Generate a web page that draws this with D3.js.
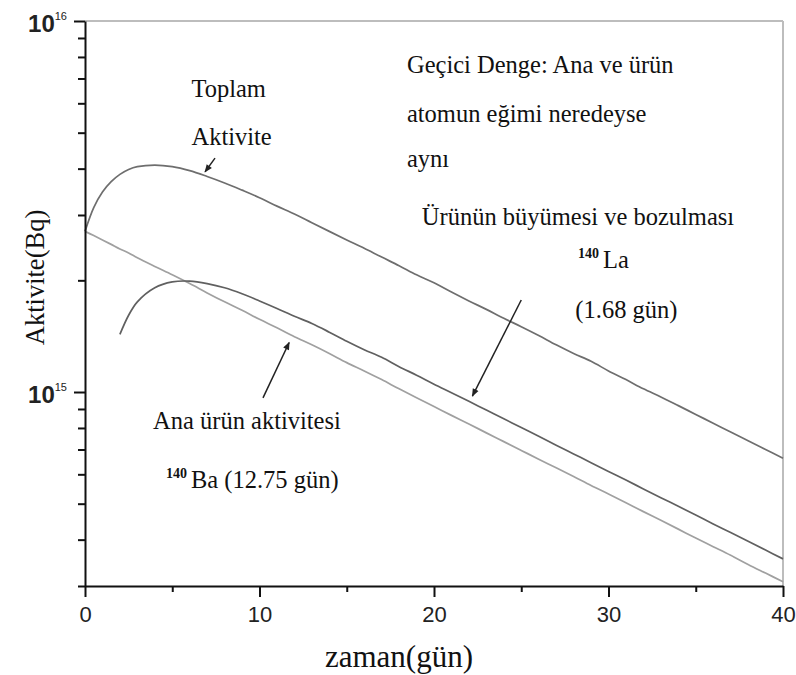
<!DOCTYPE html>
<html>
<head>
<meta charset="utf-8">
<script src="https://cdn.jsdelivr.net/npm/d3@7"></script>
<style>
  body { margin: 0; background: #fff; }
  svg { display: block; }
</style>
</head>
<body>
<div id="chart"></div>
<script>
// days (gün) and activities, in units of 10^15 Bq
const days = [0, 0.5, 1, 1.5, 2, 2.5, 3, 4, 5, 6, 7, 8, 9, 10, 11, 12, 13, 14, 15, 16, 17, 18, 19, 20,
  21, 22, 23, 24, 25, 26, 27, 28, 29, 30, 31, 32, 33, 34, 35, 36, 37, 38, 39, 40];

const totalAct = [2.71, 3.14, 3.46, 3.69, 3.86, 3.98, 4.05, 4.09, 4.05, 3.95, 3.81, 3.66, 3.50, 3.34,
  3.17, 3.02, 2.86, 2.71, 2.57, 2.44, 2.31, 2.19, 2.07, 1.97, 1.86, 1.76, 1.67, 1.58, 1.50, 1.42,
  1.34, 1.27, 1.21, 1.14, 1.08, 1.02, 0.970, 0.919, 0.870, 0.824, 0.780, 0.739, 0.700, 0.663];

// 140La, only drawn from day 2
const daughterAct = [null, null, null, null, 1.43, 1.61, 1.75, 1.91, 1.98, 1.99, 1.96, 1.91, 1.84, 1.76,
  1.68, 1.60, 1.53, 1.45, 1.37, 1.30, 1.24, 1.17, 1.11, 1.05, 0.996, 0.944, 0.894, 0.847, 0.802, 0.760,
  0.719, 0.681, 0.645, 0.611, 0.579, 0.548, 0.519, 0.492, 0.466, 0.441, 0.418, 0.396, 0.375, 0.355];

// 140Ba
const parentAct = [2.71, 2.64, 2.57, 2.50, 2.43, 2.37, 2.30, 2.18, 2.07, 1.96, 1.85, 1.75, 1.66, 1.57,
  1.49, 1.41, 1.34, 1.27, 1.20, 1.14, 1.08, 1.02, 0.965, 0.914, 0.865, 0.820, 0.776, 0.735, 0.696, 0.659,
  0.625, 0.592, 0.560, 0.531, 0.503, 0.476, 0.451, 0.427, 0.404, 0.383, 0.363, 0.343, 0.325, 0.308];

const xMajor = [0, 10, 20, 30, 40];
const xMinor = [5, 15, 25, 35];
const yMajor = [1, 10];
const yMajorLabels = ["15", "16"];
const yMinor = [0.3, 0.4, 0.5, 0.6, 0.7, 0.8, 0.9, 2, 3, 4, 5, 6, 7, 8, 9];

// annotation arrows (tail -> head), data units
const arrows = [
  {x1: 7.45, y1: 4.27, x2: 6.88, y2: 3.92},
  {x1: 25.0, y1: 1.77, x2: 22.2, y2: 0.975},
  {x1: 10.2, y1: 0.964, x2: 11.7, y2: 1.36}
];

// annotation texts, left-anchored at (day, activity)
const notes = [
  {x: 6.1, y: 6.24, text: "Toplam"},
  {x: 6.1, y: 4.63, text: "Aktivite"},
  {x: 18.45, y: 7.24, text: "Geçici Denge: Ana ve ürün"},
  {x: 18.45, y: 5.35, text: "atomun eğimi neredeyse"},
  {x: 18.45, y: 4.04, text: "aynı"},
  {x: 19.3, y: 2.82, text: "Ürünün büyümesi ve bozulması"},
  {x: 28.25, y: 2.16, sup: "140", text: "La"},
  {x: 28.1, y: 1.58, text: "(1.68 gün)"},
  {x: 3.9, y: 0.795, text: "Ana ürün aktivitesi"},
  {x: 4.64, y: 0.551, sup: "140", text: "Ba (12.75 gün)"}
];

const width = 796, height = 675;
const marginTop = 21, marginRight = 13, marginBottom = 89, marginLeft = 85;
const serif = "'Liberation Serif', 'Times New Roman', serif";
const sans = "'Liberation Sans', Arial, sans-serif";

const x = d3.scaleLinear().domain([0, 40]).range([marginLeft, width - marginRight]);
const y = d3.scaleLog().domain([0.3, 10]).range([height - marginBottom, marginTop]);

const svg = d3.select("#chart").append("svg")
    .attr("width", width)
    .attr("height", height)
    .attr("viewBox", [0, 0, width, height]);

svg.append("defs").append("marker")
    .attr("id", "head")
    .attr("viewBox", "0 -5 10 10")
    .attr("refX", 9)
    .attr("refY", 0)
    .attr("markerUnits", "userSpaceOnUse")
    .attr("markerWidth", 9)
    .attr("markerHeight", 8)
    .attr("orient", "auto")
  .append("path")
    .attr("d", "M0,-4L10,0L0,4Z")
    .attr("fill", "#222");

// light frame on top and right
svg.append("line")
    .attr("x1", x(0)).attr("x2", x(40))
    .attr("y1", y(10)).attr("y2", y(10))
    .attr("stroke", "#bdbdbd").attr("stroke-width", 2);
svg.append("line")
    .attr("x1", x(40)).attr("x2", x(40))
    .attr("y1", y(10)).attr("y2", y(0.3))
    .attr("stroke", "#bdbdbd").attr("stroke-width", 2);

// curves
const line = d3.line()
    .defined(d => d[1] != null)
    .x(d => x(d[0]))
    .y(d => y(d[1]))
    .curve(d3.curveCatmullRom.alpha(0.5));

const series = [
  {values: parentAct, color: "#a0a0a0"},
  {values: daughterAct, color: "#606060"},
  {values: totalAct, color: "#6e6e6e"}
];

svg.append("g")
    .attr("fill", "none")
    .attr("stroke-width", 1.7)
  .selectAll("path")
  .data(series)
  .join("path")
    .attr("stroke", s => s.color)
    .attr("d", s => line(days.map((d, i) => [d, s.values[i]])));

// x axis
svg.append("g")
    .attr("transform", `translate(0,${y(0.3)})`)
    .call(d3.axisBottom(x).tickValues(xMinor).tickSize(6).tickFormat(""))
    .call(g => g.select(".domain").remove())
    .call(g => g.selectAll("line").attr("stroke", "#111").attr("stroke-width", 2));

svg.append("g")
    .attr("transform", `translate(0,${y(0.3)})`)
    .call(d3.axisBottom(x).tickValues(xMajor).tickSize(11).tickSizeOuter(0).tickPadding(9))
    .call(g => g.select(".domain").attr("stroke", "#111").attr("stroke-width", 2))
    .call(g => g.selectAll("line").attr("stroke", "#111").attr("stroke-width", 2))
    .call(g => g.selectAll("text")
        .attr("font-family", "'Liberation Sans Narrow', 'Liberation Sans', Arial, sans-serif")
        .attr("font-size", 22)
        .attr("fill", "#222"));

// y axis
svg.append("g")
    .attr("transform", `translate(${x(0)},0)`)
    .call(d3.axisLeft(y).tickValues(yMinor).tickSize(7).tickFormat(""))
    .call(g => g.select(".domain").remove())
    .call(g => g.selectAll("line").attr("stroke", "#111").attr("stroke-width", 2));

const yAxis = svg.append("g")
    .attr("transform", `translate(${x(0)},0)`)
    .call(d3.axisLeft(y).tickValues(yMajor).tickSize(11).tickSizeOuter(0).tickFormat(""))
    .call(g => g.select(".domain").attr("stroke", "#111").attr("stroke-width", 2))
    .call(g => g.selectAll("line").attr("stroke", "#111").attr("stroke-width", 2));

yAxis.selectAll(".tick").each(function(d, i) {
  const t = d3.select(this).append("text")
      .attr("x", -18)
      .attr("dy", "0.45em")
      .attr("text-anchor", "end")
      .attr("fill", "#222")
      .attr("font-family", sans)
      .attr("font-weight", "bold")
      .attr("font-size", 24);
  t.append("tspan").text("10");
  t.append("tspan")
      .attr("dy", -12)
      .attr("font-size", 11)
      .attr("font-weight", "normal")
      .text(yMajorLabels[i]);
});

// axis titles
svg.append("text")
    .attr("transform", `translate(44,${(y(0.3) + y(10)) / 2 - 26}) rotate(-90)`)
    .attr("text-anchor", "middle")
    .attr("font-family", serif)
    .attr("font-size", 26.5)
    .attr("fill", "#111")
    .text("Aktivite(Bq)");

svg.append("text")
    .attr("x", 399)
    .attr("y", 667)
    .attr("text-anchor", "middle")
    .attr("font-family", serif)
    .attr("font-size", 31)
    .attr("fill", "#111")
    .text("zaman(gün)");

// arrows
svg.append("g")
  .selectAll("line")
  .data(arrows)
  .join("line")
    .attr("x1", d => x(d.x1)).attr("y1", d => y(d.y1))
    .attr("x2", d => x(d.x2)).attr("y2", d => y(d.y2))
    .attr("stroke", "#222")
    .attr("stroke-width", 1.5)
    .attr("marker-end", "url(#head)");

// notes
const note = svg.append("g")
    .attr("font-family", serif)
    .attr("font-size", 24.5)
    .attr("fill", "#111")
  .selectAll("text")
  .data(notes)
  .join("text")
    .attr("x", d => x(d.x))
    .attr("y", d => y(d.y));

note.each(function(d) {
  const t = d3.select(this);
  if (d.sup) {
    t.append("tspan")
        .attr("font-size", 14)
        .attr("font-weight", "bold")
        .attr("dy", -10)
        .text(d.sup);
    t.append("tspan").attr("dx", 4).attr("dy", 10).text(d.text);
  } else {
    t.text(d.text);
  }
});
</script>
</body>
</html>
